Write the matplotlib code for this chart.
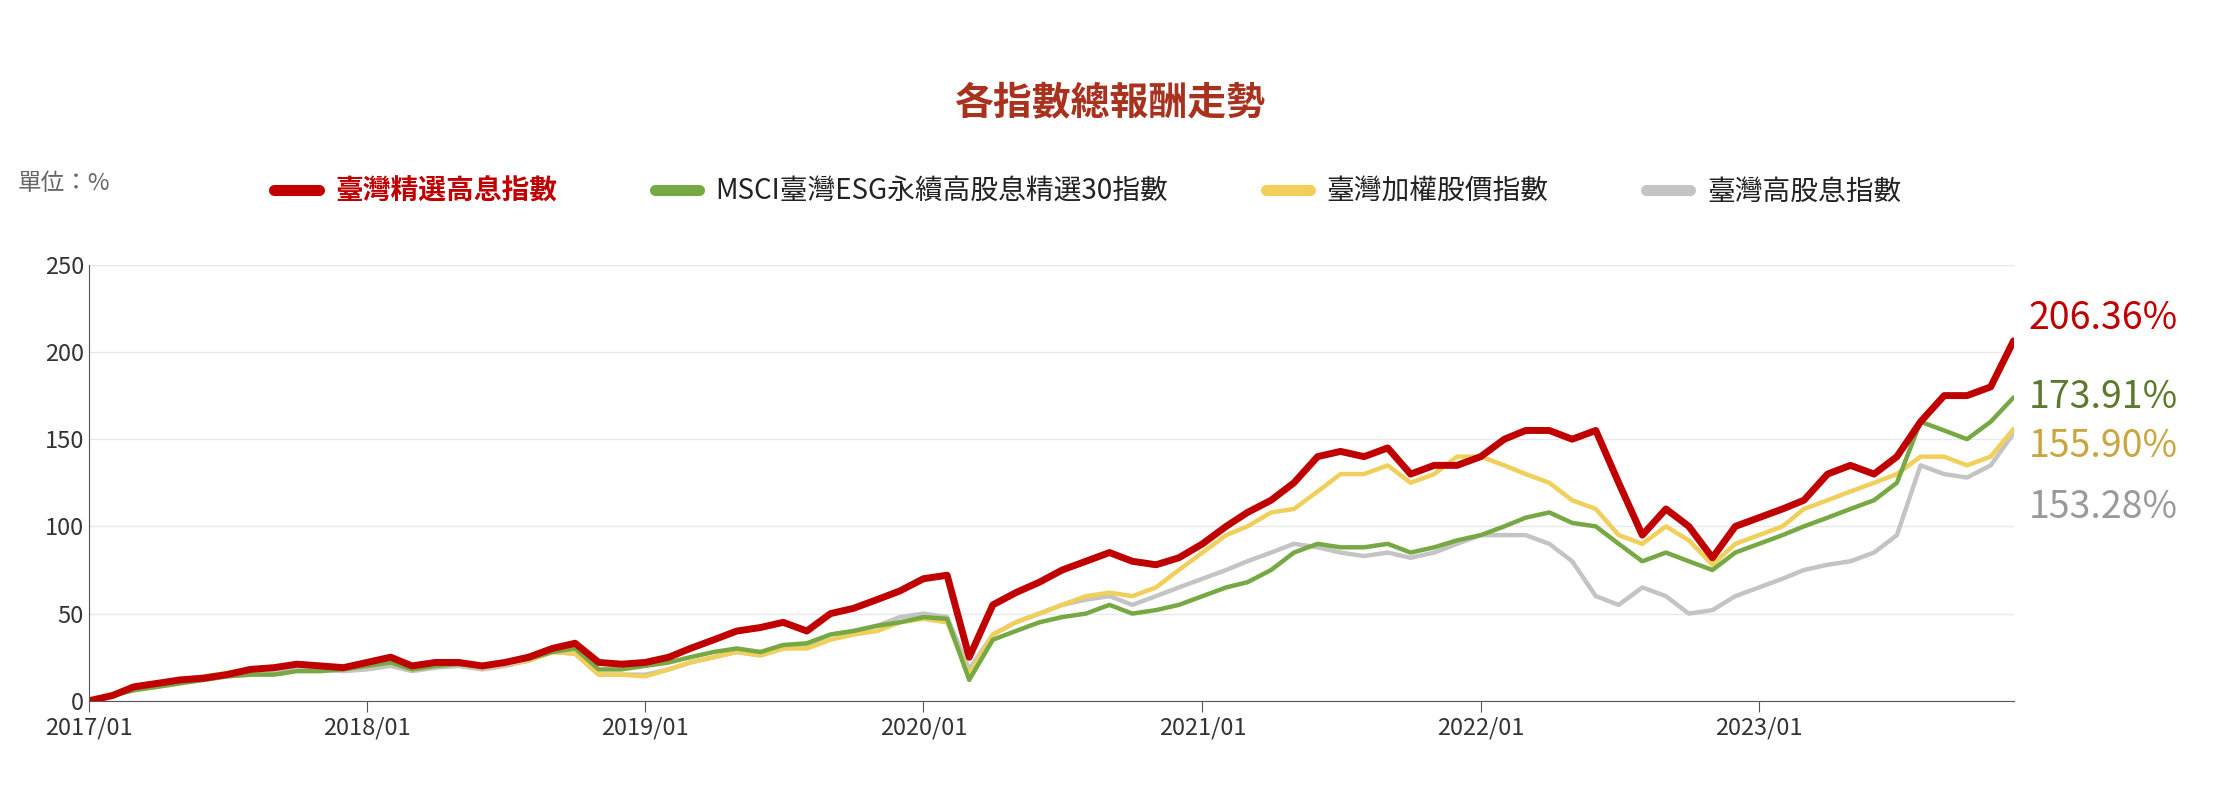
import matplotlib
matplotlib.use("Agg")
import matplotlib.pyplot as plt
from matplotlib import font_manager
import pandas as pd

cjk = sorted({f.name for f in font_manager.fontManager.ttflist if "CJK" in f.name})
pref = [n for n in cjk if "TC" in n] + cjk
plt.rcParams["font.family"] = (pref[:1] if pref else []) + ["DejaVu Sans"]

dates = pd.date_range("2017-01-01", periods=84, freq="MS")
red = [0, 3, 8, 10, 12, 13, 15, 18, 19, 21, 20, 19,
       22, 25, 20, 22, 22, 20, 22, 25, 30, 33, 22, 21,
       22, 25, 30, 35, 40, 42, 45, 40, 50, 53, 58, 63,
       70, 72, 25, 55, 62, 68, 75, 80, 85, 80, 78, 82,
       90, 100, 108, 115, 125, 140, 143, 140, 145, 130, 135, 135,
       140, 150, 155, 155, 150, 155, 125, 95, 110, 100, 82, 100,
       105, 110, 115, 130, 135, 130, 140, 160, 175, 175, 180, 206.36]
green = [0, 3, 6, 8, 10, 12, 14, 15, 15, 17, 17, 18,
         20, 22, 18, 20, 21, 20, 22, 24, 28, 30, 18, 18,
         20, 22, 25, 28, 30, 28, 32, 33, 38, 40, 43, 45,
         48, 47, 12, 35, 40, 45, 48, 50, 55, 50, 52, 55,
         60, 65, 68, 75, 85, 90, 88, 88, 90, 85, 88, 92,
         95, 100, 105, 108, 102, 100, 90, 80, 85, 80, 75, 85,
         90, 95, 100, 105, 110, 115, 125, 160, 155, 150, 160, 173.91]
yellow = [0, 4, 8, 10, 12, 14, 16, 18, 19, 21, 20, 18,
          20, 22, 18, 20, 21, 19, 21, 23, 28, 27, 15, 15,
          14, 18, 22, 25, 28, 26, 30, 30, 35, 38, 40, 45,
          47, 45, 15, 38, 45, 50, 55, 60, 62, 60, 65, 75,
          85, 95, 100, 108, 110, 120, 130, 130, 135, 125, 130, 140,
          140, 135, 130, 125, 115, 110, 95, 90, 100, 92, 78, 90,
          95, 100, 110, 115, 120, 125, 130, 140, 140, 135, 140, 155.90]
gray = [0, 3, 7, 9, 11, 12, 14, 15, 16, 18, 18, 17,
        18, 20, 17, 19, 20, 18, 20, 23, 28, 27, 15, 15,
        15, 18, 22, 25, 28, 26, 30, 32, 38, 40, 43, 48,
        50, 48, 18, 38, 45, 50, 55, 58, 60, 55, 60, 65,
        70, 75, 80, 85, 90, 88, 85, 83, 85, 82, 85, 90,
        95, 95, 95, 90, 80, 60, 55, 65, 60, 50, 52, 60,
        65, 70, 75, 78, 80, 85, 95, 135, 130, 128, 135, 153.28]

names = ["臺灣精選高息指數", "MSCI臺灣ESG永續高股息精選30指數", "臺灣加權股價指數", "臺灣高股息指數"]
colors = ["#C00000", "#76A844", "#F0CF5A", "#C4C4C4"]
label_colors = ["#C00000", "#5C7A2E", "#C9A640", "#9A9A9A"]
widths = [5, 3.2, 3.2, 3.2]
series = [red, green, yellow, gray]
xticks = pd.date_range("2017-01-01", periods=7, freq="YS")

fig = plt.figure(figsize=(22.2, 8), dpi=100)
ax = fig.add_axes([0.040, 0.124, 0.867, 0.545])
for s, c, w, n in reversed(list(zip(series, colors, widths, names))):
    ax.plot(dates, s, color=c, lw=w, label=n, solid_capstyle="round")

ax.set_ylim(0, 250)
ax.set_xlim(dates[0], dates[-1])
ax.set_yticks(range(0, 251, 50))
ax.set_xticks(xticks)
ax.set_xticklabels([d.strftime("%Y/%m") for d in xticks])
ax.tick_params(axis="both", labelsize=17, colors="#333333")
ax.tick_params(axis="y", length=0)
ax.tick_params(axis="x", length=8, color="#555555")
ax.grid(axis="y", color="#E8E8E8", lw=1)
for sp in ["top", "right"]:
    ax.spines[sp].set_visible(False)
ax.spines["left"].set_color("#555555")
ax.spines["bottom"].set_color("#555555")

label_y = [219, 174, 146, 111]
for s, ly, c in zip(series, label_y, label_colors):
    ax.text(1.008, ly / 250, f"{s[-1]:.2f}%", transform=ax.transAxes,
            color=c, fontsize=27, va="center", ha="left")

fig.text(0.5, 0.87, "各指數總報酬走勢", ha="center", va="center",
         fontsize=28, fontweight="bold", color="#A8321E")
fig.text(0.008, 0.77, "單位：%", fontsize=17, color="#666666", va="center")
handles, labels = ax.get_legend_handles_labels()
leg = fig.legend(handles[::-1], labels[::-1], loc="center", bbox_to_anchor=(0.49, 0.76),
                 ncol=4, frameon=False, fontsize=20, handlelength=1.6,
                 columnspacing=3.5, handletextpad=0.6)
for t, c in zip(leg.get_texts(), ["#C00000", "#222222", "#222222", "#222222"]):
    t.set_color(c)
leg.get_texts()[0].set_fontweight("bold")
for l in leg.get_lines():
    l.set_linewidth(8)

fig.savefig("out.png", dpi=100)
